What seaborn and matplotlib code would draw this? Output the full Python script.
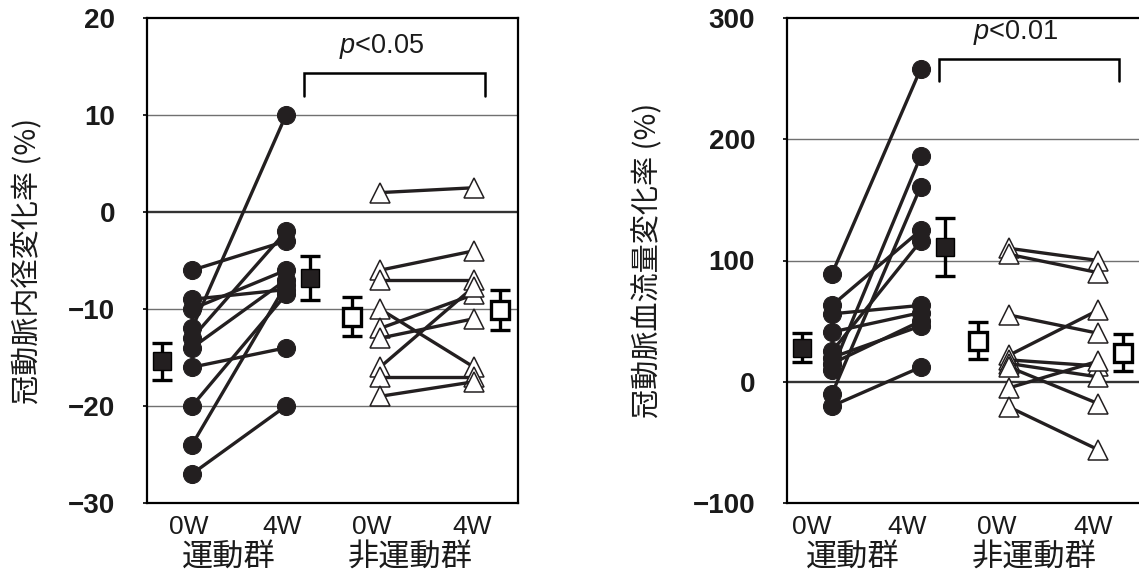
import matplotlib
matplotlib.use("Agg")
import matplotlib.pyplot as plt
import matplotlib.transforms as mtransforms
import numpy as np
import pandas as pd
import seaborn as sns

# ---- data: 冠動脈内径変化率 (%) ----
diam_ex_0w = [-6, -9, -10, -12, -13, -14, -16, -20, -24, -27]
diam_ex_4w = [-3, -8, -6, 10, -2, -7, -14, -8.5, -7.5, -20]
diam_non_0w = [2, -6, -7, -10, -12, -13, -16, -17, -19]
diam_non_4w = [2.5, -4, -7, -16, -8.5, -11, -7.7, -17, -17.5]
diam_mean = [-15.4, -6.8, -10.8, -10.1]
diam_se = [1.9, 2.3, 2.0, 2.1]

# ---- data: 冠動脈血流量変化率 (%) ----
flow_ex_0w = [89, 63, 56, 41, 25, 20, 15, 10, -10, -20]
flow_ex_4w = [258, 125, 63, 57, 116, 46, 50, 186, 161, 12]
flow_non_0w = [110, 105, 55, 22, 18, 15, 12, -5, -21]
flow_non_4w = [100, 90, 40, 59, 13, 4, -18, 17, -56]
flow_mean = [28, 111, 34, 24]
flow_se = [12, 24, 15, 15]

time_labels = ["0W", "4W", "0W", "4W"]
group_labels = ["運動群", "非運動群"]
diam_ylabel = "冠動脈内径変化率 (%)"
flow_ylabel = "冠動脈血流量変化率 (%)"
diam_p = "$p$<0.05"
flow_p = "$p$<0.01"

sns.set_theme(style="white")
plt.rcParams["font.family"] = ["Liberation Sans", "Noto Sans CJK JP", "DejaVu Sans"]
plt.rcParams["mathtext.fontset"] = "custom"
plt.rcParams["mathtext.it"] = "Liberation Sans:italic"
plt.rcParams["mathtext.rm"] = "Liberation Sans"
plt.rcParams["axes.unicode_minus"] = True

INK = "#231f20"
TXT = "#1a1a1a"
CJK = ["Noto Sans CJK JP", "DejaVu Sans"]


def long_table(before, after, x0):
    rows = []
    for i, (a, b) in enumerate(zip(before, after)):
        rows.append({"subject": i, "pos": x0, "value": a})
        rows.append({"subject": i, "pos": x0 + 1, "value": b})
    return pd.DataFrame(rows)


def draw_panel(ax, ex0, ex4, non0, non4, mean, se, ylim, yticks, grid_vals,
               xlim, mean_pos, tick_pos, group_pos, bracket, ptext, ptext_x,
               ylabel, ylabel_x):
    ax.set_xlim(*xlim)
    ax.set_ylim(*ylim)

    for g in grid_vals:
        if g == 0:
            ax.axhline(g, color="#333333", lw=1.7, zorder=1)
        else:
            ax.axhline(g, color="#707070", lw=1.0, zorder=1)

    ex = long_table(ex0, ex4, 0)
    non = long_table(non0, non4, 2)
    sns.lineplot(data=ex, x="pos", y="value", units="subject", estimator=None,
                 color=INK, lw=2.4, marker="o", markersize=13,
                 markerfacecolor=INK, markeredgecolor=INK, legend=False,
                 ax=ax, zorder=3)
    sns.lineplot(data=non, x="pos", y="value", units="subject", estimator=None,
                 color=INK, lw=2.4, marker="^", markersize=14,
                 markerfacecolor="white", markeredgecolor=INK,
                 markeredgewidth=1.1, legend=False, ax=ax, zorder=3)

    faces = [INK, INK, "white", "white"]
    for xp, m, s, fc in zip(mean_pos, mean, se, faces):
        ax.errorbar(xp, m, yerr=s, fmt="none", ecolor="black", elinewidth=2.4,
                    capsize=7.5, capthick=2.4, zorder=4)
        ax.plot(xp, m, marker="s", markersize=13.5, markerfacecolor=fc,
                markeredgecolor="black", markeredgewidth=2.4 if fc == "white" else 1,
                zorder=5)

    bx0, bx1, btop, bbot = bracket
    ax.plot([bx0, bx0, bx1, bx1], [bbot, btop, btop, bbot], color="black",
            lw=1.8, zorder=4, solid_joinstyle="miter")
    ax.text(ptext_x, btop + (ylim[1] - ylim[0]) * 0.055, ptext,
            ha="center", va="center", fontsize=19.5, color=TXT)

    ax.set_yticks(yticks)
    ax.set_yticklabels([f"{v}".replace("-", "\u2212") for v in yticks],
                       fontweight="bold", fontsize=20, color=TXT)
    ax.set_xticks(tick_pos)
    ax.set_xticklabels(time_labels, fontsize=19, color=TXT)
    ax.tick_params(axis="y", length=3, width=1.2, pad=20, color="black",
                   direction="out", left=True)
    ax.tick_params(axis="x", length=0, pad=9)
    ax.set_xlabel("")
    ax.set_ylabel(ylabel, fontsize=21, family=CJK, color=TXT, va="center")
    ax.yaxis.set_label_coords(ylabel_x, 0.5)

    trans = mtransforms.blended_transform_factory(ax.transData, ax.transAxes)
    for gx, gl in zip(group_pos, group_labels):
        ax.text(gx, -0.11, gl, transform=trans, ha="center", va="center",
                fontsize=22.5, family=CJK, color=TXT)

    for sp in ax.spines.values():
        sp.set_visible(True)
        sp.set_color("black")
        sp.set_linewidth(1.6)


fig = plt.figure(figsize=(11.39, 5.74), dpi=100)
ax1 = fig.add_axes([147 / 1139, 71 / 574, 371 / 1139, 485 / 574])
ax2 = fig.add_axes([787 / 1139, 71 / 574, 355 / 1139, 485 / 574])

draw_panel(ax1, diam_ex_0w, diam_ex_4w, diam_non_0w, diam_non_4w,
           diam_mean, diam_se, ylim=(-30, 20), yticks=[-30, -20, -10, 0, 10, 20],
           grid_vals=[10, 0, -10, -20], xlim=(-0.479, 3.468),
           mean_pos=[-0.32, 1.255, 1.70, 3.28],
           tick_pos=[-0.04, 0.96, 1.91, 2.98], group_pos=[0.39, 2.32],
           bracket=(1.19, 3.12, 14.3, 12.0), ptext=diam_p, ptext_x=2.02,
           ylabel=diam_ylabel, ylabel_x=-0.321)

draw_panel(ax2, flow_ex_0w, flow_ex_4w, flow_non_0w, flow_non_4w,
           flow_mean, flow_se, ylim=(-100, 300), yticks=[-100, 0, 100, 200, 300],
           grid_vals=[200, 100, 0], xlim=(-0.507, 3.495),
           mean_pos=[-0.34, 1.27, 1.65, 3.28],
           tick_pos=[-0.23, 0.85, 1.86, 2.94], group_pos=[0.23, 2.28],
           bracket=(1.21, 3.24, 266, 248), ptext=flow_p, ptext_x=2.07,
           ylabel=flow_ylabel, ylabel_x=-0.392)

fig.savefig("out.png", dpi=100)
